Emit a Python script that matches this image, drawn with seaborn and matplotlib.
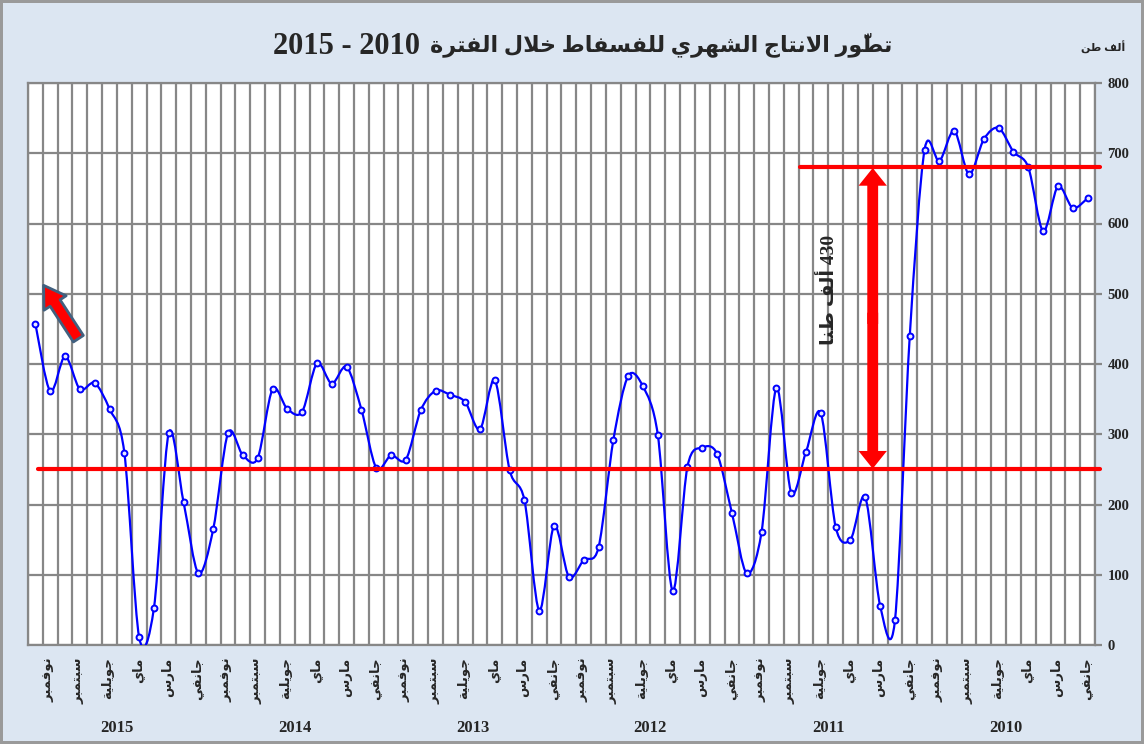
import numpy as np
import matplotlib
matplotlib.use("Agg")
import matplotlib.pyplot as plt
import seaborn as sns
from matplotlib.path import Path
from matplotlib.patches import PathPatch, FancyArrowPatch
from matplotlib.transforms import blended_transform_factory

# monthly phosphate production (thousand tonnes), Jan 2010 -> Dec 2015
prod_2010 = [636, 622, 653, 589, 680, 702, 736, 720, 670, 732, 689, 705]
prod_2011 = [440, 35, 56, 210, 150, 168, 330, 275, 217, 366, 161, 102]
prod_2012 = [188, 272, 281, 254, 77, 299, 368, 383, 292, 139, 121, 97]
prod_2013 = [170, 49, 206, 249, 377, 307, 346, 356, 362, 334, 264, 270]
prod_2014 = [252, 335, 396, 372, 401, 332, 336, 364, 266, 270, 302, 165]
prod_2015 = [102, 203, 302, 53, 11, 274, 336, 373, 364, 411, 361, 457]

years = ["2010", "2011", "2012", "2013", "2014", "2015"]
month_labels = ["جانفي", "مارس", "ماي", "جويلية", "سبتمبر", "نوفمبر"]
title_ar = "تطوّر الانتاج الشهري للفسفاط خلال الفترة"
title_years = ["2010", "2015"]
unit_label = "ألف طن"
gap_label = "430 ألف طنا"
low_level = 250
high_level = 680

values = np.array(prod_2010 + prod_2011 + prod_2012 + prod_2013 + prod_2014 + prod_2015, dtype=float)
pos = np.arange(len(values))

# --- minimal Arabic shaping (matplotlib has no bidi / joining) ---
FORMS = {
    'ا': ('\uFE8D', '\uFE8E', None, None),
    'أ': ('\uFE83', '\uFE84', None, None),
    'ب': ('\uFE8F', '\uFE90', '\uFE91', '\uFE92'),
    'ة': ('\uFE93', '\uFE94', None, None),
    'ت': ('\uFE95', '\uFE96', '\uFE97', '\uFE98'),
    'ج': ('\uFE9D', '\uFE9E', '\uFE9F', '\uFEA0'),
    'خ': ('\uFEA5', '\uFEA6', '\uFEA7', '\uFEA8'),
    'د': ('\uFEA9', '\uFEAA', None, None),
    'ر': ('\uFEAD', '\uFEAE', None, None),
    'س': ('\uFEB1', '\uFEB2', '\uFEB3', '\uFEB4'),
    'ش': ('\uFEB5', '\uFEB6', '\uFEB7', '\uFEB8'),
    'ط': ('\uFEC1', '\uFEC2', '\uFEC3', '\uFEC4'),
    'ف': ('\uFED1', '\uFED2', '\uFED3', '\uFED4'),
    'ق': ('\uFED5', '\uFED6', '\uFED7', '\uFED8'),
    'ل': ('\uFEDD', '\uFEDE', '\uFEDF', '\uFEE0'),
    'م': ('\uFEE1', '\uFEE2', '\uFEE3', '\uFEE4'),
    'ن': ('\uFEE5', '\uFEE6', '\uFEE7', '\uFEE8'),
    'ه': ('\uFEE9', '\uFEEA', '\uFEEB', '\uFEEC'),
    'و': ('\uFEED', '\uFEEE', None, None),
    'ي': ('\uFEF1', '\uFEF2', '\uFEF3', '\uFEF4'),
    'لا': ('\uFEFB', '\uFEFC', None, None),
    'لأ': ('\uFEF7', '\uFEF8', None, None),
}


def shape_word(word):
    units = []
    i = 0
    while i < len(word):
        c = word[i]
        if c == '\u0651' and units:
            units[-1][1] += c
            i += 1
            continue
        if c == 'ل' and i + 1 < len(word) and word[i + 1] in 'اأ':
            units.append([c + word[i + 1], ''])
            i += 2
            continue
        units.append([c, ''])
        i += 1
    out = []
    for k, (base, mark) in enumerate(units):
        f = FORMS.get(base)
        if f is None:
            out.append(base + mark)
            continue
        prev = FORMS.get(units[k - 1][0]) if k > 0 else None
        nxt = FORMS.get(units[k + 1][0]) if k + 1 < len(units) else None
        jp = prev is not None and prev[2] is not None
        jn = f[2] is not None and nxt is not None
        if jp and jn:
            g = f[3]
        elif jp:
            g = f[1]
        elif jn:
            g = f[2]
        else:
            g = f[0]
        out.append(g + mark)
    return ''.join(reversed(out))


def ar(text):
    words = text.split(' ')
    return ' '.join(shape_word(w) if any('\u0600' <= ch <= '\u06ff' for ch in w) else w
                    for w in reversed(words))


sns.set_style("white")
plt.rcParams['font.family'] = ['Liberation Serif', 'DejaVu Sans']
plt.rcParams['font.weight'] = 'bold'

bg = '#dce6f2'
grid_c = '#878787'

fig = plt.figure(figsize=(11.44, 7.44), dpi=100, facecolor=bg)
fig.patch.set_edgecolor('#9a9a9a')
fig.patch.set_linewidth(3)
ax = fig.add_axes([28 / 1144, 1 - 645 / 744, (1095 - 28) / 1144, (645 - 83) / 744])
ax.set_facecolor('white')

# smooth line (cubic Bezier through the points, like Excel's smoothed line)
pts = np.column_stack([pos, values])
ext = np.vstack([pts[0], pts, pts[-1]])
verts = [tuple(pts[0])]
codes = [Path.MOVETO]
for i in range(len(pts) - 1):
    p0, p1, p2, p3 = ext[i], ext[i + 1], ext[i + 2], ext[i + 3]
    c1 = p1 + (p2 - p0) / 6.5
    c2 = p2 - (p3 - p1) / 6.5
    verts += [tuple(c1), tuple(c2), tuple(p2)]
    codes += [Path.CURVE4] * 3
ax.add_patch(PathPatch(Path(verts, codes), fill=False, edgecolor='#0000ff', lw=1.6, zorder=3))

sns.scatterplot(x=pos, y=values, ax=ax, marker='o', s=18, facecolor='#e8e8ff',
                edgecolor='#0000ff', linewidth=1.4, zorder=4)

ax.set_xlim(len(values) - 0.5, -0.5)
ax.set_ylim(0, 800)
ax.set_xlabel('')
ax.set_ylabel('')

ax.set_xticks(np.arange(-0.5, len(values), 12))
ax.set_xticks(np.arange(-0.5, len(values), 1), minor=True)
ax.set_xticklabels([])
ax.tick_params(axis='x', which='major', length=72, width=1.6, color=grid_c, direction='out')
ax.tick_params(axis='x', which='minor', length=43, width=1.6, color=grid_c, direction='out')

ax.yaxis.tick_right()
ax.set_yticks(np.arange(0, 801, 100))
ax.tick_params(axis='y', length=5, width=1.6, color=grid_c, labelsize=10.5, pad=4)
for t in ax.get_yticklabels():
    t.set_fontweight('bold')

ax.grid(True, which='both', axis='x', color=grid_c, lw=1.6)
ax.grid(True, which='major', axis='y', color=grid_c, lw=1.6)
ax.set_axisbelow(True)
for s in ax.spines.values():
    s.set_color(grid_c)
    s.set_linewidth(1.6)

# month and year labels
trans = blended_transform_factory(ax.transData, ax.transAxes)
for y in range(len(years)):
    for m, lab in enumerate(month_labels):
        ax.text(y * 12 + m * 2 + 0.1, -0.022, ar(lab), transform=trans, rotation=90,
                ha='center', va='top', fontsize=9.5, fontweight='bold')
    ax.text(y * 12 + 5.5, -0.148, years[y], transform=trans, ha='center', va='center',
            fontsize=12, fontweight='bold')

# reference levels and gap arrow
ax.plot([70.8, -0.85], [low_level, low_level], color='red', lw=3, clip_on=False, zorder=5)
ax.plot([19.4, -0.85], [high_level, high_level], color='red', lw=3, clip_on=False, zorder=5)
mid = (low_level + high_level) / 2
for start, end in ((mid + 8, low_level + 1), (mid - 8, high_level - 1)):
    ax.add_patch(FancyArrowPatch((14.5, start), (14.5, end),
                                 arrowstyle='simple,head_length=0.75,head_width=1.2,tail_width=0.46',
                                 mutation_scale=17, fc='red', ec='none', lw=0,
                                 shrinkA=0, shrinkB=0, zorder=6))
ax.text(17.5, 505, ar(gap_label), rotation=90, ha='center', va='center',
        fontsize=14, fontweight='bold', zorder=6)

# small trend arrow, top-left
ax.add_patch(FancyArrowPatch((68.1, 436), (70.45, 512),
                             arrowstyle='simple,head_length=0.8,head_width=1.0,tail_width=0.45',
                             mutation_scale=19, fc='red', ec='#41607f', lw=2,
                             shrinkA=0, shrinkB=0, zorder=6))

# title: years part then Arabic part (right to left reading)
fig.text(420 / 1144, 1 - 46 / 744, ' - '.join(reversed(title_years)),
         ha='right', va='center', fontsize=22, fontweight='bold')
fig.text(430 / 1144, 1 - 45 / 744, ar(title_ar), ha='left', va='center',
         fontsize=16, fontweight='bold')
fig.text(1103 / 1144, 1 - 47 / 744, ar(unit_label), ha='center', va='center',
         fontsize=8, fontweight='bold')

fig.savefig('out.png', dpi=100, facecolor=bg, edgecolor=fig.patch.get_edgecolor())
